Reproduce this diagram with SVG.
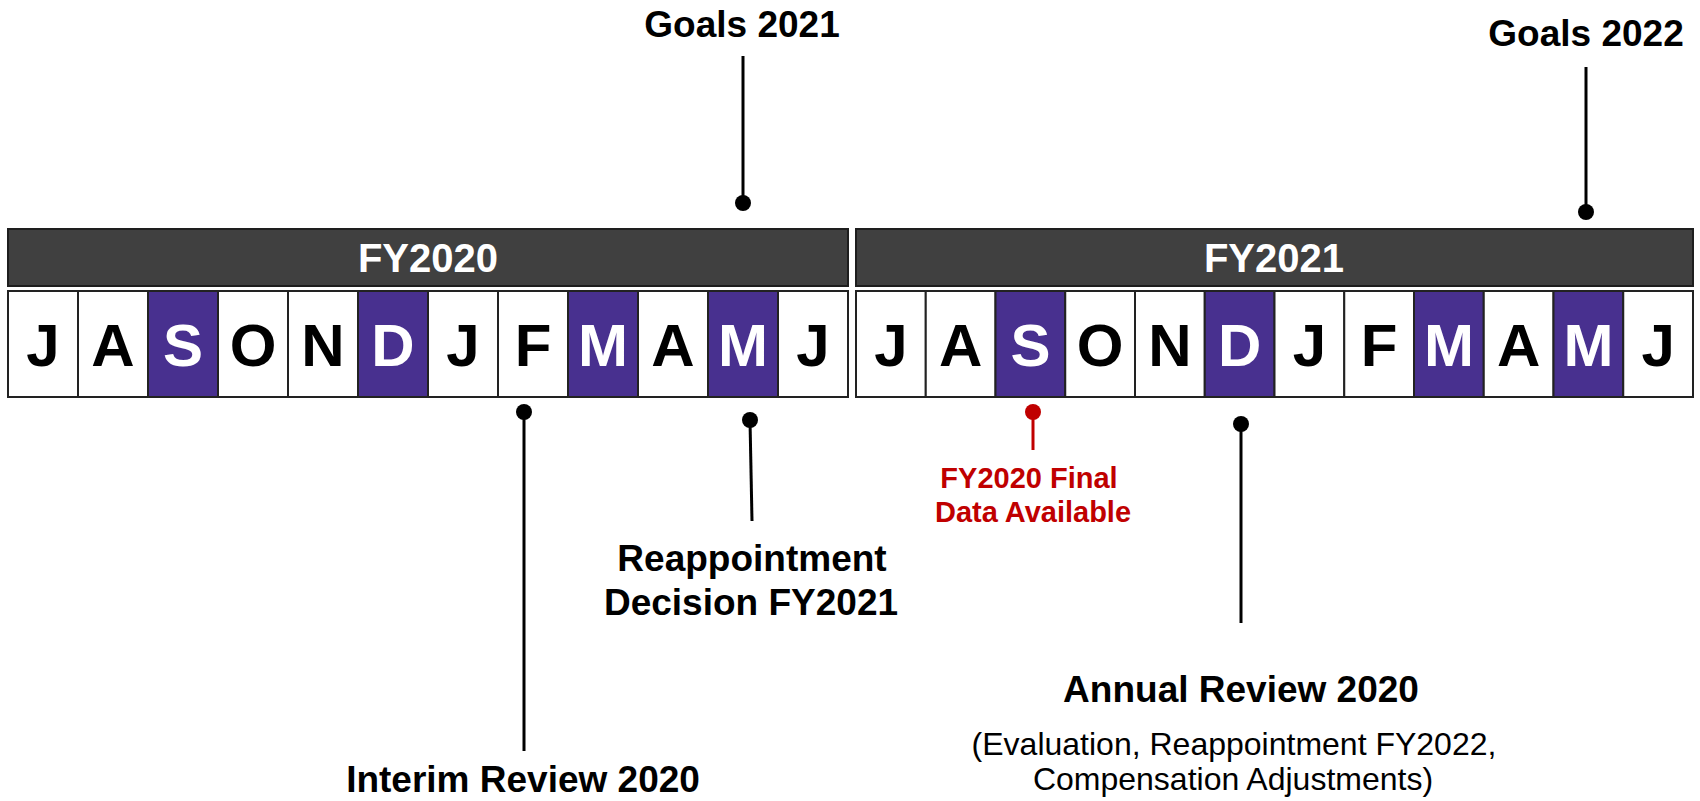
<svg xmlns="http://www.w3.org/2000/svg" width="1700" height="801" viewBox="0 0 1700 801">
  <style>
    .bar { fill: #404040; stroke: #1e1e1e; stroke-width: 2; }
    .bar-label { font-family: "Liberation Sans", Arial, sans-serif; font-weight: bold; font-size: 40px; fill: #ffffff; text-anchor: middle; }
    .cell { fill: #ffffff; stroke: #222222; stroke-width: 2; }
    .cell.hl { fill: #48308f; }
    .mon { font-family: "Liberation Sans", Arial, sans-serif; font-weight: bold; font-size: 60px; fill: #000000; text-anchor: middle; }
    .mon.hl { fill: #ffffff; }
    .lead { stroke: #000000; stroke-width: 3; fill: none; }
    .lead.red { stroke: #c00000; }
    .dot { fill: #000000; }
    .dot.red { fill: #c00000; }
    .title { font-family: "Liberation Sans", Arial, sans-serif; font-weight: bold; font-size: 37px; fill: #000000; text-anchor: middle; }
    .sub { font-family: "Liberation Sans", Arial, sans-serif; font-size: 32px; fill: #000000; text-anchor: middle; }
    .note { font-family: "Liberation Sans", Arial, sans-serif; font-weight: bold; font-size: 29px; fill: #c00000; text-anchor: middle; }
  </style>

  <!-- Fiscal year 2020 -->
  <g id="fy2020">
    <rect class="bar" x="8" y="229" width="840" height="57"/>
    <text class="bar-label" x="428" y="272">FY2020</text>
    <rect class="cell" x="8" y="291" width="70" height="106"/>
    <rect class="cell" x="78" y="291" width="70" height="106"/>
    <rect class="cell hl" x="148" y="291" width="70" height="106"/>
    <rect class="cell" x="218" y="291" width="70" height="106"/>
    <rect class="cell" x="288" y="291" width="70" height="106"/>
    <rect class="cell hl" x="358" y="291" width="70" height="106"/>
    <rect class="cell" x="428" y="291" width="70" height="106"/>
    <rect class="cell" x="498" y="291" width="70" height="106"/>
    <rect class="cell hl" x="568" y="291" width="70" height="106"/>
    <rect class="cell" x="638" y="291" width="70" height="106"/>
    <rect class="cell hl" x="708" y="291" width="70" height="106"/>
    <rect class="cell" x="778" y="291" width="70" height="106"/>
    <text class="mon" x="43" y="366">J</text>
    <text class="mon" x="113" y="366">A</text>
    <text class="mon hl" x="183" y="366">S</text>
    <text class="mon" x="253" y="366">O</text>
    <text class="mon" x="323" y="366">N</text>
    <text class="mon hl" x="393" y="366">D</text>
    <text class="mon" x="463" y="366">J</text>
    <text class="mon" x="533" y="366">F</text>
    <text class="mon hl" x="603" y="366">M</text>
    <text class="mon" x="673" y="366">A</text>
    <text class="mon hl" x="743" y="366">M</text>
    <text class="mon" x="813" y="366">J</text>
  </g>

  <!-- Fiscal year 2021 -->
  <g id="fy2021">
    <rect class="bar" x="856" y="229" width="837" height="57"/>
    <text class="bar-label" x="1274" y="272">FY2021</text>
    <rect class="cell" x="856" y="291" width="69.75" height="106"/>
    <rect class="cell" x="925.75" y="291" width="69.75" height="106"/>
    <rect class="cell hl" x="995.5" y="291" width="69.75" height="106"/>
    <rect class="cell" x="1065.25" y="291" width="69.75" height="106"/>
    <rect class="cell" x="1135" y="291" width="69.75" height="106"/>
    <rect class="cell hl" x="1204.75" y="291" width="69.75" height="106"/>
    <rect class="cell" x="1274.5" y="291" width="69.75" height="106"/>
    <rect class="cell" x="1344.25" y="291" width="69.75" height="106"/>
    <rect class="cell hl" x="1414" y="291" width="69.75" height="106"/>
    <rect class="cell" x="1483.75" y="291" width="69.75" height="106"/>
    <rect class="cell hl" x="1553.5" y="291" width="69.75" height="106"/>
    <rect class="cell" x="1623.25" y="291" width="69.75" height="106"/>
    <text class="mon" x="890.9" y="366">J</text>
    <text class="mon" x="960.6" y="366">A</text>
    <text class="mon hl" x="1030.4" y="366">S</text>
    <text class="mon" x="1100.1" y="366">O</text>
    <text class="mon" x="1169.9" y="366">N</text>
    <text class="mon hl" x="1239.6" y="366">D</text>
    <text class="mon" x="1309.4" y="366">J</text>
    <text class="mon" x="1379.1" y="366">F</text>
    <text class="mon hl" x="1448.9" y="366">M</text>
    <text class="mon" x="1518.6" y="366">A</text>
    <text class="mon hl" x="1588.4" y="366">M</text>
    <text class="mon" x="1658.1" y="366">J</text>
  </g>

  <!-- Leader lines with end dots -->
  <g id="connectors">
    <line class="lead" x1="743" y1="56" x2="743" y2="203"/>
    <circle class="dot" cx="743" cy="203" r="8"/>
    <line class="lead" x1="1586" y1="67" x2="1586" y2="212"/>
    <circle class="dot" cx="1586" cy="212" r="8"/>
    <line class="lead" x1="524" y1="412" x2="524" y2="751"/>
    <circle class="dot" cx="524" cy="412" r="8"/>
    <line class="lead" x1="750" y1="420" x2="752" y2="521"/>
    <circle class="dot" cx="750" cy="420" r="8"/>
    <line class="lead red" x1="1033" y1="412" x2="1033" y2="450"/>
    <circle class="dot red" cx="1033" cy="412" r="8"/>
    <line class="lead" x1="1241" y1="424" x2="1241" y2="623"/>
    <circle class="dot" cx="1241" cy="424" r="8"/>
  </g>

  <!-- Milestone labels -->
  <g id="goals-2021">
    <text class="title" x="742" y="37">Goals 2021</text>
  </g>
  <g id="goals-2022">
    <text class="title" x="1586" y="46">Goals 2022</text>
  </g>
  <g id="interim-review">
    <text class="title" x="523" y="792">Interim Review 2020</text>
  </g>
  <g id="reappointment-decision">
    <text class="title" x="752" y="571">Reappointment</text>
    <text class="title" x="751" y="615">Decision FY2021</text>
  </g>
  <g id="final-data">
    <text class="note" x="1029" y="488">FY2020 Final</text>
    <text class="note" x="1033" y="522">Data Available</text>
  </g>
  <g id="annual-review">
    <text class="title" x="1241" y="702">Annual Review 2020</text>
    <text class="sub" x="1234" y="755">(Evaluation, Reappointment FY2022,</text>
    <text class="sub" x="1233" y="790">Compensation Adjustments)</text>
  </g>
</svg>
